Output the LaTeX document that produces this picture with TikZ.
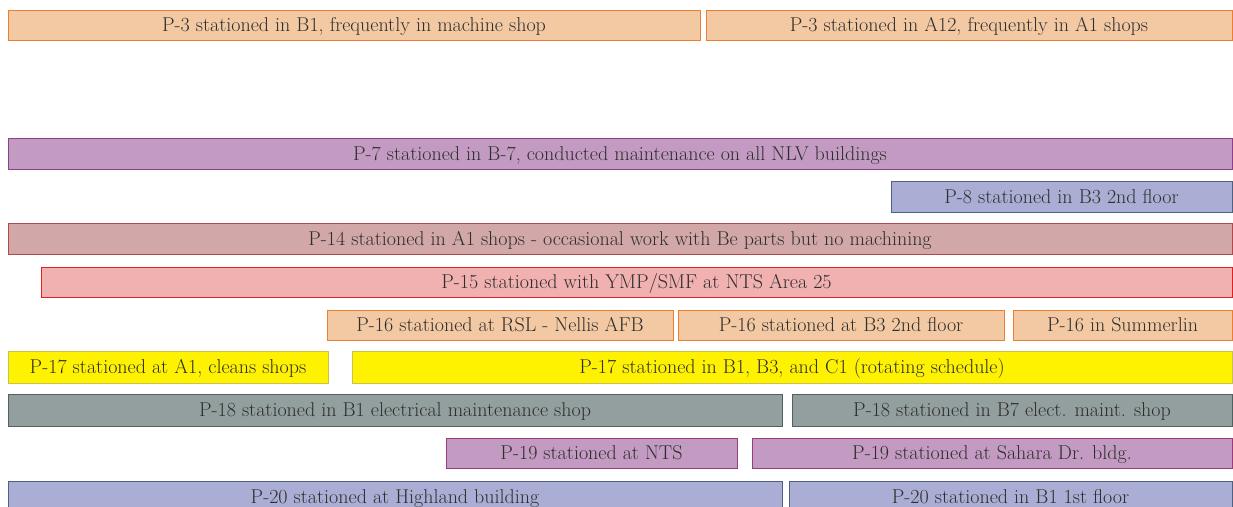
\documentclass[tikz,border=0pt]{standalone}
\usepackage{fontspec}
\definecolor{txt}{HTML}{2E2E2E}
\definecolor{orfill}{HTML}{F2C9A3}\definecolor{ordraw}{HTML}{ED7D31}
\definecolor{pufill}{HTML}{C39BC2}\definecolor{pudraw}{HTML}{8E3F8C}
\definecolor{blfill}{HTML}{AAAED4}\definecolor{bldraw}{HTML}{4F6081}
\definecolor{rofill}{HTML}{D1A7A7}\definecolor{rodraw}{HTML}{B04A4A}
\definecolor{pkfill}{HTML}{F2B1B1}\definecolor{pkdraw}{HTML}{E0201F}
\definecolor{yefill}{HTML}{FFF200}\definecolor{yedraw}{HTML}{C9C24E}
\definecolor{grfill}{HTML}{939F9E}\definecolor{grdraw}{HTML}{4E6360}
\definecolor{mafill}{HTML}{C39BC2}\definecolor{madraw}{HTML}{9A3C7C}
\tikzset{
  bar/.style={draw, line width=1pt, inner sep=0pt, text=txt,
    font=\fontsize{20}{22}\selectfont, text height=13pt, text depth=0pt},
  orbar/.style={bar, fill=orfill, draw=ordraw},
  pubar/.style={bar, fill=pufill, draw=pudraw},
  blbar/.style={bar, fill=blfill, draw=bldraw},
  robar/.style={bar, fill=rofill, draw=rodraw},
  pkbar/.style={bar, fill=pkfill, draw=pkdraw},
  yebar/.style={bar, fill=yefill, draw=yedraw},
  grbar/.style={bar, fill=grfill, draw=grdraw},
  mabar/.style={bar, fill=mafill, draw=madraw},
}
\begin{document}
\begin{tikzpicture}[x=1pt,y=-1pt]
\useasboundingbox (0,0) rectangle (1233,506);
\clip (0,0) rectangle (1233,506);
\node[orbar, minimum width=692, minimum height=30] (p3a) at (354,25) {P-3 stationed in B1, frequently in machine shop};
\node[orbar, minimum width=526, minimum height=30] (p3b) at (969,25) {P-3 stationed in A12, frequently in A1 shops};
\node[pubar, minimum width=1224, minimum height=31] (p7) at (620,153.5) {P-7 stationed in B-7, conducted maintenance on all NLV buildings};
\node[blbar, minimum width=341, minimum height=31] (p8) at (1061.5,197) {P-8 stationed in B3 2nd floor};
\node[robar, minimum width=1224, minimum height=31] (p14) at (620,239) {P-14 stationed in A1 shops - occasional work with Be parts but no machining};
\node[pkbar, minimum width=1191, minimum height=30] (p15) at (636.5,282) {P-15 stationed with YMP/SMF at NTS Area 25};
\node[orbar, minimum width=346, minimum height=30] (p16a) at (500,325) {P-16 stationed at RSL - Nellis AFB};
\node[orbar, minimum width=326, minimum height=30] (p16b) at (841,325) {P-16 stationed at B3 2nd floor};
\node[orbar, minimum width=219, minimum height=30] (p16c) at (1122.5,325) {P-16 in Summerlin};
\node[yebar, minimum width=320, minimum height=32] (p17a) at (168,367) {P-17 stationed at A1, cleans shops};
\node[yebar, minimum width=880, minimum height=32] (p17b) at (792,367) {P-17 stationed in B1, B3, and C1 (rotating schedule)};
\node[grbar, minimum width=774, minimum height=32] (p18a) at (395,410) {P-18 stationed in B1 electrical maintenance shop};
\node[grbar, minimum width=440, minimum height=32] (p18b) at (1012,410) {P-18 stationed in B7 elect. maint. shop};
\node[mabar, minimum width=291, minimum height=30] (p19a) at (591.5,453) {P-19 stationed at NTS};
\node[mabar, minimum width=480, minimum height=30] (p19b) at (992,453) {P-19 stationed at Sahara Dr. bldg.};
\node[blbar, minimum width=774, minimum height=31] (p20a) at (395,496.5) {P-20 stationed at Highland building};
\node[blbar, minimum width=443, minimum height=31] (p20b) at (1010.5,496.5) {P-20 stationed in B1 1st floor};
\end{tikzpicture}
\end{document}
